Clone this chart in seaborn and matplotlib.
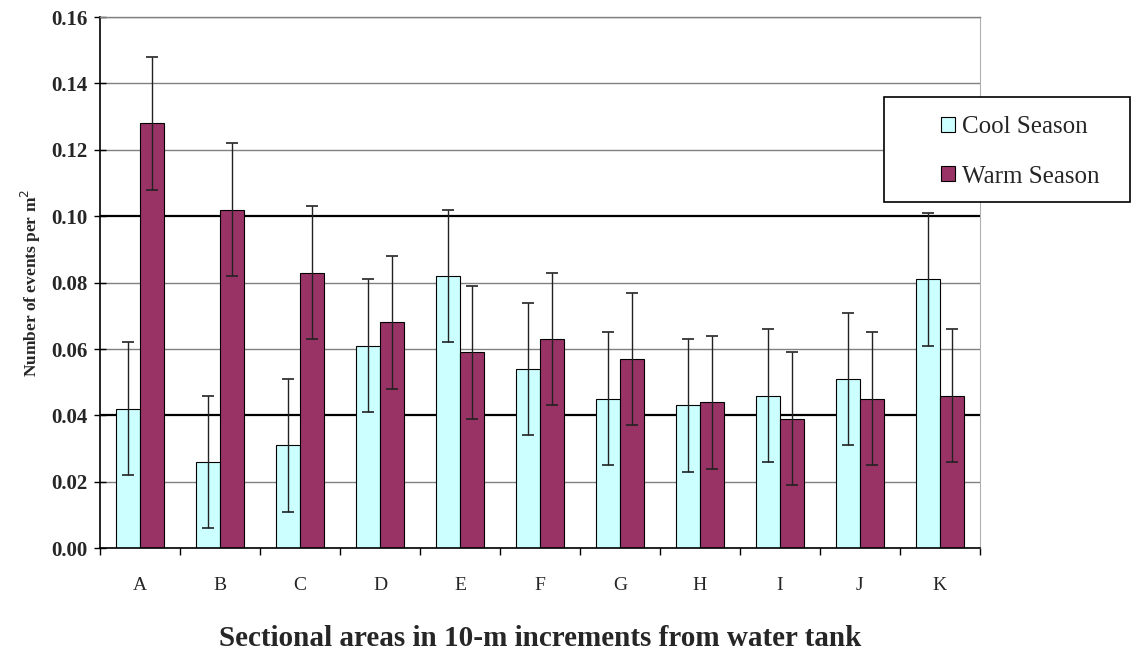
import numpy as np
import pandas as pd
import seaborn as sns
import matplotlib.pyplot as plt
from matplotlib.patches import Patch, Rectangle

sections = ['A', 'B', 'C', 'D', 'E', 'F', 'G', 'H', 'I', 'J', 'K']
cool = [0.042, 0.026, 0.031, 0.061, 0.082, 0.054, 0.045, 0.043, 0.046, 0.051, 0.081]
warm = [0.128, 0.102, 0.083, 0.068, 0.059, 0.063, 0.057, 0.044, 0.039, 0.045, 0.046]
cool_err = [0.02] * 11
warm_err = [0.02] * 11
seasons = ['Cool Season', 'Warm Season']
colors = ['#CCFFFF', '#993366']

df = pd.DataFrame({
    'Section': sections * 2,
    'Season': [seasons[0]] * len(sections) + [seasons[1]] * len(sections),
    'Rate': cool + warm,
})

sns.set_style('white')
plt.rcParams['font.family'] = ['Liberation Serif', 'DejaVu Serif']

fig = plt.figure(figsize=(11.38, 6.55), dpi=100)
ax = fig.add_axes([0.088, 0.163, 0.773, 0.811])

sns.barplot(data=df, x='Section', y='Rate', hue='Season', palette=colors,
            saturation=1, width=0.6, edgecolor='black', linewidth=0.8,
            ax=ax, legend=False)

# error bars on top of the bars
for cont, err in zip(ax.containers, [cool_err, warm_err]):
    xs = [p.get_x() + p.get_width() / 2 for p in cont.patches]
    ys = [p.get_height() for p in cont.patches]
    ax.errorbar(xs, ys, yerr=err, fmt='none', ecolor='#222222',
                elinewidth=1.0, capsize=4, capthick=1.2, zorder=5)

yt = np.arange(0, 0.161, 0.02)
ax.set_ylim(0, 0.16)
ax.set_xlim(-0.5, len(sections) - 0.5)
ax.set_yticks(yt)
ax.set_yticklabels([f'{v:.2f}' for v in yt], fontsize=15, fontweight='bold')
ax.set_axisbelow(True)
ax.yaxis.grid(True, color='#808080', linewidth=1.0)
for gl, v in zip(ax.get_ygridlines(), yt):
    if round(v, 2) in (0.04, 0.10):
        gl.set_color('black')
        gl.set_linewidth(1.6)

ax.set_xticks(range(len(sections)))
ax.set_xticklabels(sections, fontsize=14)
ax.set_xticks(np.arange(-0.5, len(sections), 1), minor=True)
ax.tick_params(axis='x', which='major', bottom=False, length=0, pad=21)
ax.tick_params(axis='x', which='minor', bottom=True, length=5, width=1,
               color='black', direction='out')
ax.tick_params(axis='y', left=True, length=8, width=1, color='black',
               direction='inout', pad=5)

for side in ['left', 'bottom']:
    ax.spines[side].set_color('black')
    ax.spines[side].set_linewidth(1.2)
ax.spines['right'].set_color('#b0b0b0')
ax.spines['right'].set_linewidth(0.8)
ax.spines['top'].set_color('#808080')
ax.spines['top'].set_linewidth(1.0)

ax.set_ylabel('Number of events per m$^{2}$', fontsize=12.5, fontweight='bold', labelpad=6)
ax.set_xlabel('Sectional areas in 10-m increments from water tank',
              fontsize=21, fontweight='bold', labelpad=22)

# legend box sticking out to the right of the plot area
fig.patches.append(Rectangle((0.777, 0.692), 0.216, 0.160, transform=fig.transFigure,
                             facecolor='white', edgecolor='black', linewidth=1.2,
                             zorder=3))
handles = [Patch(facecolor=c, edgecolor='black', linewidth=0.8) for c in colors]
leg = fig.legend(handles, seasons, loc='center left', bbox_to_anchor=(0.818, 0.768),
                 fontsize=18, frameon=False,
                 handlelength=0.55, handleheight=0.55, handletextpad=0.3,
                 labelspacing=1.1, borderaxespad=0)
leg.set_zorder(4)

fig.savefig('out.png', dpi=100)
